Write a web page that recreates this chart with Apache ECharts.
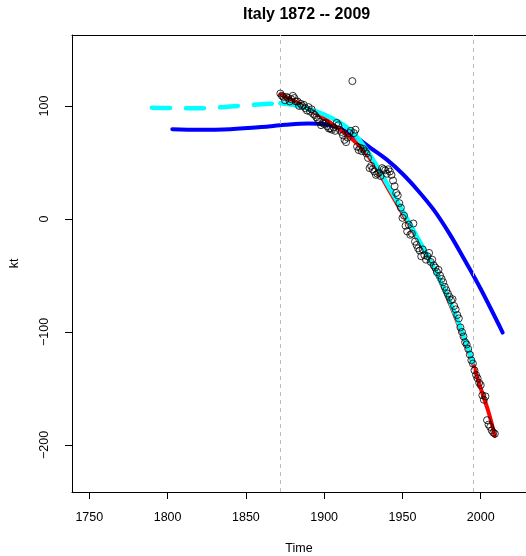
<!DOCTYPE html>
<html>
<head>
<meta charset="utf-8">
<script src="https://cdn.jsdelivr.net/npm/echarts@6/dist/echarts.min.js"></script>
<style>
  html, body { margin: 0; padding: 0; background: #fff; }
  #main { width: 526px; height: 556px; }
</style>
</head>
<body>
<div id="main"></div>
<script>
// observed kt, one value per year from 1872
const startYear = 1872;
const kt = [
  111, 109, 108, 105, 108, 107, 104, 106,
  109, 107, 104, 104, 100, 102, 100, 101, 98, 96,
  99, 95, 97, 93, 92, 90, 88, 86, 83, 85,
  84, 85, 82, 80, 80, 79, 81, 78, 85, 83,
  79, 77, 74, 70, 68, 72, 76, 78, 122, 76,
  79, 64, 61, 63, 60, 62, 60, 58, 54, 45,
  47, 44, 42, 39, 40, 41, 38, 45, 44, 43,
  40, 44, 42, 39, 34, 29, 23, 21, 14, 10,
  1, 3, -6, -11, -5, -14, -13, -4, -20, -23,
  -26, -28, -33, -27, -32, -36, -33, -30, -38, -36,
  -41, -43, -47, -45, -50, -53, -56, -60, -63, -66,
  -69, -72, -71, -77, -80, -85, -88, -96, -100, -104,
  -109, -111, -115, -120, -125, -128, -134, -138, -141, -145,
  -147, -156, -160, -157, -178, -182, -184, -187, -189, -190
];

// fitted curves
const redYears = [1872, 1880, 1890, 1900, 1910, 1915, 1920, 1925, 1930, 1935, 1940, 1945, 1950, 1955, 1960, 1965, 1970, 1975, 1980, 1985, 1990, 1995, 2000, 2005, 2009];
const redVals  = [110, 105, 97, 89, 79, 74, 68, 61, 52, 41, 29, 17, 5, -7, -19, -31, -44, -58, -74, -91, -109, -128, -150, -171, -192];

const cyanYears = [1872, 1880, 1890, 1900, 1910, 1915, 1920, 1925, 1930, 1935, 1940, 1945, 1950, 1955, 1960, 1965, 1970, 1975, 1980, 1985, 1990, 1995];
const cyanVals  = [102.5, 101, 97.5, 92.5, 85.5, 80.5, 74, 65.5, 55, 43.5, 31.5, 19.5, 7.5, -5, -17.5, -30, -43, -57, -72, -89, -107, -127];

const cyanBackYears = [1790, 1800, 1810, 1820, 1830, 1840, 1850, 1860, 1872];
const cyanBackVals  = [98.5, 98.2, 98, 98, 98.5, 99.5, 100.5, 101.5, 102.5];

const blueYears = [1803, 1820, 1840, 1860, 1875, 1890, 1900, 1910, 1920, 1930, 1940, 1950, 1960, 1970, 1980, 1990, 2000, 2014];
const blueVals  = [79.5, 79, 79.5, 81.3, 83.3, 84.5, 84, 80, 72.5, 62.5, 52.5, 40, 25, 8, -13, -37, -62, -100.5];

const xTicks = [1750, 1800, 1850, 1900, 1950, 2000];
const yTicks = [-200, -100, 0, 100];
const cutYears = [1872, 1995];

const zip = (xs, ys) => xs.map((x, i) => [x, ys[i]]);
const fontFamily = 'Liberation Sans, Arial, Helvetica, sans-serif';
const minus = v => String(v).replace('-', '\u2212');

const myChart = echarts.init(document.getElementById('main'));

const boxLine = { show: true, onZero: false, lineStyle: { color: '#000', width: 1 } };

const option = {
  animation: false,
  title: {
    text: 'Italy 1872 -- 2009',
    left: 243,
    top: 7,
    padding: 0,
    textStyle: { fontFamily, fontSize: 16, fontWeight: 'bold', color: '#000' }
  },
  grid: { left: 72, right: 0, top: 35, bottom: 64, outerBoundsMode: 'none', containLabel: false },
  xAxis: [
    {
      type: 'value',
      min: 1738.95,
      max: 2028.9,
      name: 'Time',
      nameLocation: 'middle',
      nameGap: 50,
      nameTextStyle: { fontFamily, fontSize: 12.5, color: '#000', verticalAlign: 'top' },
      splitLine: { show: false },
      axisLine: boxLine,
      axisTick: { show: true, length: 7, customValues: xTicks, lineStyle: { color: '#000' } },
      axisLabel: { customValues: xTicks, margin: 19, fontFamily, fontSize: 12.5, color: '#000', formatter: v => String(v) }
    },
    {
      // top edge of the box
      type: 'value',
      position: 'top',
      min: 1738.95,
      max: 2028.9,
      splitLine: { show: false },
      axisLine: boxLine,
      axisTick: { show: false },
      axisLabel: { show: false }
    }
  ],
  yAxis: {
    type: 'value',
    min: -241.6,
    max: 162.8,
    name: 'kt',
    nameLocation: 'middle',
    nameGap: 51,
    nameRotate: 90,
    nameTextStyle: { fontFamily, fontSize: 12.5, color: '#000' },
    splitLine: { show: false },
    axisLine: boxLine,
    axisTick: { show: true, length: 7, customValues: yTicks, lineStyle: { color: '#000' } },
    axisLabel: {
      customValues: yTicks, rotate: 90, margin: 21,
      fontFamily, fontSize: 12.5, color: '#000',
      formatter: minus
    }
  },
  series: [
    {
      type: 'line',
      data: zip(blueYears, blueVals),
      smooth: 0.35,
      symbol: 'none',
      lineStyle: { color: '#0000ff', width: 4, cap: 'round' },
      z: 3
    },
    {
      type: 'line',
      data: zip(redYears, redVals),
      smooth: 0.35,
      symbol: 'none',
      lineStyle: { color: '#ff0000', width: 4, cap: 'round' },
      z: 4
    },
    {
      type: 'line',
      data: zip(cyanYears, cyanVals),
      smooth: 0.35,
      symbol: 'none',
      lineStyle: { color: '#00ffff', width: 4.5, cap: 'round' },
      z: 5
    },
    {
      type: 'line',
      data: zip(cyanBackYears, cyanBackVals),
      smooth: 0.35,
      symbol: 'none',
      lineStyle: { color: '#00ffff', width: 4.5, type: [18, 16], cap: 'round' },
      z: 5
    },
    {
      type: 'scatter',
      data: kt.map((v, i) => [startYear + i, v]),
      symbol: 'circle',
      symbolSize: 7,
      itemStyle: { color: 'rgba(0,0,0,0)', borderColor: '#000', borderWidth: 1 },
      z: 6,
      markLine: {
        silent: true,
        symbol: 'none',
        label: { show: false },
        lineStyle: { color: '#bdbdbd', width: 1, type: [4, 4] },
        data: cutYears.map(y => ({ xAxis: y }))
      }
    }
  ]
};

myChart.setOption(option);
</script>
</body>
</html>
